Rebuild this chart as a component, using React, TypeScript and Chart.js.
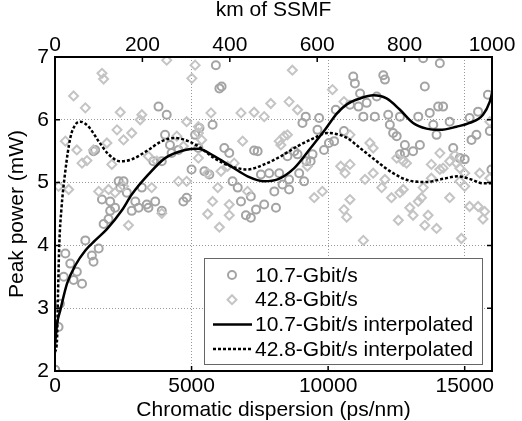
import React, { useEffect, useRef } from 'react';
import { Chart, registerables } from 'chart.js';

Chart.register(...registerables);

const xTicks = [0, 5000, 10000, 15000];
const kmTicks = [0, 200, 400, 600, 800, 1000];
const yTicks = [2, 3, 4, 5, 6, 7];

const seriesLabels = ['10.7-Gbit/s', '42.8-Gbit/s', '10.7-Gbit/s interpolated', '42.8-Gbit/s interpolated'];

const circles107: [number, number][] = [
  [3790, 6.21], [4090, 6.08], [4030, 5.76], [4210, 5.6], [4270, 5.47], [4520, 5.52], [3600, 5.34], [3910, 5.34],
  [5000, 5.21], [5130, 5.76], [5250, 5.55], [2330, 5.02], [2510, 5.02], [2390, 4.92], [2630, 4.84], [1720, 4.73],
  [2020, 4.7], [2940, 4.7], [3060, 4.6], [3360, 4.65], [3420, 4.6], [2200, 4.6], [2020, 4.55], [2810, 4.55],
  [3670, 4.7], [3910, 4.55], [3180, 4.92], [4700, 4.7], [4820, 4.76], [1470, 5.52], [1410, 5.5],
  [5890, 6.87], [6020, 6.5], [6100, 6.53], [5290, 5.87], [5770, 5.92], [9180, 6.05], [9060, 5.95], [9670, 6.03],
  [10280, 6.16], [10580, 5.82], [9610, 5.84], [6200, 5.55], [6380, 5.47], [7290, 5.51], [7420, 5.5], [8760, 5.5],
  [8880, 5.45], [8510, 5.42], [9200, 5.34], [9360, 5.34], [9430, 5.45], [9850, 5.52], [10030, 5.63], [10220, 5.66],
  [5470, 5.18], [5650, 5.13], [6500, 5.02], [6690, 4.92], [7540, 5.13], [7840, 5.15], [8210, 5.15], [8030, 4.86],
  [8570, 4.89], [8330, 4.97], [6810, 4.7], [7170, 4.78], [7360, 4.57], [7660, 4.65], [8090, 4.6], [8940, 5.15],
  [9120, 5.02], [8570, 5.05],
  [10920, 6.69], [10980, 6.58], [12020, 6.71], [12080, 6.64], [13540, 6.53], [14090, 6.9], [13480, 6.98],
  [11170, 6.42], [11780, 6.37], [10800, 6.24], [11110, 6.21], [11410, 6.27], [11710, 6.05], [11290, 6.05],
  [12200, 6.08], [12260, 5.92], [12630, 6.05], [13300, 6.05], [13720, 6.11], [14030, 6.21], [14210, 6.21],
  [14450, 5.97], [15180, 6.03], [15490, 6.13], [15850, 6.4], [15920, 5.82], [15250, 5.68], [15430, 5.76],
  [13850, 5.92], [13970, 5.76], [12380, 5.79], [12510, 5.74], [12810, 5.6], [13110, 5.5], [12810, 5.47],
  [13360, 5.6], [14580, 5.55], [14820, 5.39], [15000, 5.37], [15980, 5.21], [12630, 5.45],
  [1110, 4.08], [380, 3.87], [1350, 3.84], [1600, 3.95], [1410, 3.74], [560, 3.71], [800, 3.58], [320, 3.5],
  [680, 3.45], [990, 3.39], [130, 2.7], [10, 2.02], [1780, 4.34], [1960, 4.42], [180, 3.07],
  [6990, 4.48], [7170, 4.44],
];

const diamonds428: [number, number][] = [
  [1720, 6.74], [1780, 6.65], [680, 6.38], [1110, 6.19], [2390, 6.12], [3180, 6.08], [3120, 6.0], [4090, 6.95],
  [5010, 6.66], [5130, 6.87], [4820, 5.97], [380, 5.66], [800, 5.52], [990, 5.31], [1170, 5.35], [1410, 5.52],
  [1900, 5.63], [2270, 5.84], [2510, 5.68], [2810, 5.79], [3420, 5.42], [3730, 5.34], [2080, 5.29], [4460, 5.74],
  [4700, 5.58], [130, 4.94], [500, 4.89], [1600, 4.86], [1960, 4.89], [2200, 4.84], [2510, 4.94], [3540, 4.92],
  [4520, 5.02], [4820, 5.02], [5250, 5.39], [5250, 5.79], [5250, 5.89],
  [8690, 6.79], [10160, 6.48], [10580, 6.29], [5710, 6.11], [6810, 6.11], [7290, 6.12], [7660, 6.05], [7900, 6.26],
  [8570, 6.29], [8880, 6.16], [6870, 5.66], [8210, 5.66], [8390, 5.74], [8510, 5.76], [8270, 5.6], [5370, 5.68],
  [10460, 5.26], [6320, 5.26], [6560, 5.31], [5960, 4.92], [7050, 4.86], [5770, 4.7], [6380, 4.65], [9490, 4.76],
  [9790, 4.86], [10580, 4.57], [9240, 5.26], [5590, 5.15], [6080, 5.18],
  [10800, 5.76], [11530, 5.63], [11650, 5.55], [12510, 5.39], [12750, 5.34], [12870, 5.31], [13780, 5.29],
  [14090, 5.21], [14210, 5.23], [14450, 5.34], [14640, 5.44], [14700, 5.31], [14820, 5.23], [15000, 5.15],
  [15550, 5.15], [15920, 5.07], [10800, 5.29], [10620, 5.15], [11350, 5.05], [11650, 5.15], [11960, 4.92],
  [12080, 5.05], [12750, 4.89], [13480, 4.92], [13780, 5.07], [14820, 5.02], [15000, 4.94], [10800, 4.73],
  [12320, 4.76], [12630, 4.84], [12990, 4.6], [13300, 4.7], [13420, 4.76], [14450, 4.76], [15180, 4.62],
  [15490, 4.62], [15730, 4.54], [15920, 5.97], [14090, 5.47],
  [2690, 4.32], [3910, 4.51], [5590, 4.5], [6380, 4.48], [6020, 4.29],
  [10680, 4.45], [12570, 4.4], [13110, 4.48], [13660, 4.48], [13540, 4.32], [13970, 4.27], [11290, 4.08],
  [14880, 4.11], [15670, 4.42],
];

const interp107: [number, number][] = [
  [0, 2.42], [80, 2.76], [195, 2.97], [440, 3.39], [740, 3.68], [1110, 3.92], [1470, 4.08], [1900, 4.26],
  [2450, 4.56], [2810, 4.81], [3420, 5.13], [4030, 5.39], [4760, 5.52], [5240, 5.54], [5830, 5.42], [6440, 5.26],
  [7050, 5.1], [7660, 5.02], [8150, 5.05], [8760, 5.23], [9360, 5.55], [9850, 5.82], [10340, 6.11], [10700, 6.25],
  [11170, 6.34], [11650, 6.39], [12140, 6.34], [12630, 6.16], [13110, 5.95], [13600, 5.86], [14090, 5.84],
  [14700, 5.89], [15180, 5.95], [15670, 6.08], [15920, 6.29], [16000, 6.42],
];

const interp428: [number, number][] = [
  [0, 2.3], [73, 2.49], [110, 3.23], [158, 4.03], [231, 4.56], [377, 5.18], [560, 5.71], [743, 5.92], [925, 5.97],
  [1230, 5.89], [1595, 5.66], [1960, 5.45], [2390, 5.34], [2810, 5.37], [3420, 5.52], [3910, 5.66], [4400, 5.71],
  [4880, 5.66], [5240, 5.58], [5830, 5.39], [6440, 5.26], [7050, 5.21], [7660, 5.29], [8270, 5.42], [8880, 5.58],
  [9490, 5.71], [9970, 5.79], [10340, 5.77], [10700, 5.71], [11170, 5.55], [11780, 5.34], [12380, 5.15],
  [12990, 5.03], [13600, 5.01], [14210, 5.06], [14760, 5.1], [15180, 5.06], [15670, 4.99], [16000, 4.99],
];

const FONT = 'Arial, "Liberation Sans", sans-serif';
const CIRCLE_COLOR = '#a4a4a4';
const DIAMOND_COLOR = '#c4c4c4';

const toPts = (arr: [number, number][]) => arr.map(([x, y]) => ({ x, y }));

const framePlugin = {
  id: 'frameTicksLegend',
  afterDraw(chart: any) {
    const { ctx, chartArea: a, scales } = chart;
    ctx.save();
    ctx.strokeStyle = '#000';
    ctx.lineWidth = 1.5;
    ctx.setLineDash([]);
    ctx.beginPath();
    const tl = 5;
    xTicks.forEach((v) => {
      const px = scales.x.getPixelForValue(v);
      if (px <= a.left + 1 || px >= a.right - 1) return;
      ctx.moveTo(px, a.bottom);
      ctx.lineTo(px, a.bottom - tl);
    });
    kmTicks.forEach((v) => {
      const px = scales.x2.getPixelForValue(v);
      if (px <= a.left + 1 || px >= a.right - 1) return;
      ctx.moveTo(px, a.top);
      ctx.lineTo(px, a.top + tl);
    });
    yTicks.forEach((v) => {
      const py = scales.y.getPixelForValue(v);
      if (py <= a.top + 1 || py >= a.bottom - 1) return;
      ctx.moveTo(a.left, py);
      ctx.lineTo(a.left + tl, py);
      ctx.moveTo(a.right, py);
      ctx.lineTo(a.right - tl, py);
    });
    ctx.stroke();
    ctx.lineWidth = 2;
    ctx.strokeRect(a.left, a.top, a.right - a.left, a.bottom - a.top);

    // legend
    const bw = 278;
    const bh = 106;
    const bx = a.right - 10 - bw;
    const by = a.bottom - 7 - bh;
    ctx.fillStyle = '#fff';
    ctx.fillRect(bx, by, bw, bh);
    ctx.lineWidth = 1;
    ctx.strokeStyle = '#666';
    ctx.strokeRect(bx + 0.5, by + 0.5, bw, bh);
    ctx.font = '21px ' + FONT;
    ctx.textBaseline = 'middle';
    ctx.textAlign = 'left';
    seriesLabels.forEach((label, i) => {
      const cy = by + 17 + i * 24.7;
      const mx = bx + 28;
      if (i === 0) {
        ctx.strokeStyle = CIRCLE_COLOR;
        ctx.lineWidth = 2;
        ctx.beginPath();
        ctx.arc(mx, cy, 4, 0, Math.PI * 2);
        ctx.stroke();
      } else if (i === 1) {
        ctx.strokeStyle = DIAMOND_COLOR;
        ctx.lineWidth = 2;
        ctx.beginPath();
        ctx.moveTo(mx, cy - 4.5);
        ctx.lineTo(mx + 4.5, cy);
        ctx.lineTo(mx, cy + 4.5);
        ctx.lineTo(mx - 4.5, cy);
        ctx.closePath();
        ctx.stroke();
      } else {
        ctx.strokeStyle = '#000';
        ctx.lineWidth = 2.5;
        ctx.setLineDash(i === 3 ? [3, 2] : []);
        ctx.beginPath();
        ctx.moveTo(bx + 9, cy);
        ctx.lineTo(bx + 48, cy);
        ctx.stroke();
        ctx.setLineDash([]);
      }
      ctx.fillStyle = '#000';
      ctx.fillText(label, bx + 51, cy + 1);
    });
    ctx.restore();
  },
};

export default function App() {
  const ref = useRef<HTMLCanvasElement | null>(null);

  useEffect(() => {
    if (!ref.current) return;
    const tickFont = { family: FONT, size: 21, lineHeight: 1 };
    const chart = new Chart(ref.current, {
      type: 'scatter',
      data: {
        datasets: [
          {
            label: seriesLabels[0],
            data: toPts(circles107),
            pointStyle: 'circle',
            pointRadius: 4,
            pointBorderWidth: 2,
            pointBorderColor: CIRCLE_COLOR,
            pointBackgroundColor: 'rgba(0,0,0,0)',
            showLine: false,
            order: 3,
            xAxisID: 'x',
            yAxisID: 'y',
          },
          {
            label: seriesLabels[1],
            data: toPts(diamonds428),
            pointStyle: 'rectRot',
            pointRadius: 4.5,
            pointBorderWidth: 2,
            pointBorderColor: DIAMOND_COLOR,
            pointBackgroundColor: 'rgba(0,0,0,0)',
            showLine: false,
            order: 2,
            xAxisID: 'x',
            yAxisID: 'y',
          },
          {
            label: seriesLabels[2],
            data: toPts(interp107),
            showLine: true,
            borderColor: '#000',
            borderWidth: 2.5,
            pointRadius: 0,
            cubicInterpolationMode: 'monotone',
            order: 0,
            xAxisID: 'x',
            yAxisID: 'y',
          },
          {
            label: seriesLabels[3],
            data: toPts(interp428),
            showLine: true,
            borderColor: '#000',
            borderWidth: 2.5,
            borderDash: [3, 2],
            pointRadius: 0,
            cubicInterpolationMode: 'monotone',
            order: 1,
            xAxisID: 'x',
            yAxisID: 'y',
          },
        ] as any,
      },
      options: {
        animation: false,
        responsive: false,
        events: [],
        layout: { padding: { left: 0, top: 0, bottom: 0, right: 30 } },
        plugins: { legend: { display: false }, tooltip: { enabled: false } },
        scales: {
          x: {
            type: 'linear',
            position: 'bottom',
            min: 0,
            max: 16000,
            afterBuildTicks: (s: any) => { s.ticks = xTicks.map((v) => ({ value: v })); },
            afterFit: (s: any) => { s.height = 50; },
            ticks: { font: tickFont, color: '#000', padding: 4.5, maxRotation: 0, autoSkip: false, callback: (v: any) => String(v) },
            grid: { color: 'rgba(0,0,0,0.4)', lineWidth: 1, drawTicks: false },
            border: { display: false, dash: [1, 2] },
            title: { display: true, text: 'Chromatic dispersion (ps/nm)', font: tickFont, color: '#000', padding: 0 },
          },
          x2: {
            type: 'linear',
            position: 'top',
            min: 0,
            max: 1000,
            afterBuildTicks: (s: any) => { s.ticks = kmTicks.map((v) => ({ value: v })); },
            afterFit: (s: any) => { s.height = 57; },
            ticks: { font: tickFont, color: '#000', padding: 1, maxRotation: 0, autoSkip: false, callback: (v: any) => String(v) },
            grid: { display: false, drawTicks: false },
            border: { display: false },
            title: { display: true, text: 'km of SSMF', font: tickFont, color: '#000', padding: 0 },
          },
          y: {
            type: 'linear',
            position: 'left',
            min: 2,
            max: 7,
            afterBuildTicks: (s: any) => { s.ticks = yTicks.map((v) => ({ value: v })); },
            afterFit: (s: any) => { s.width = 55; },
            ticks: { font: tickFont, color: '#000', padding: 6, autoSkip: false, callback: (v: any) => String(v) },
            grid: { color: 'rgba(0,0,0,0.4)', lineWidth: 1, drawTicks: false },
            border: { display: false, dash: [1, 2] },
            title: { display: true, text: 'Peak power (mW)', font: tickFont, color: '#000', padding: { top: 6.5, bottom: 0 } },
          },
        },
      } as any,
      plugins: [framePlugin],
    });
    return () => chart.destroy();
  }, []);

  return (
    <div style={{ position: 'absolute', left: 0, top: 0, width: 522, height: 421, background: '#fff' }}>
      <canvas ref={ref} width={522} height={421} style={{ display: 'block', width: 522, height: 421 }} />
    </div>
  );
}
